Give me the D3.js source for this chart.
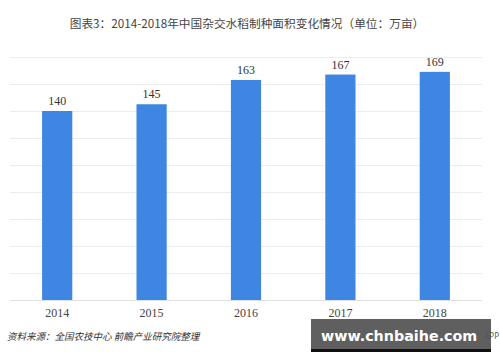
<!DOCTYPE html>
<html>
<head>
<meta charset="utf-8">
<script src="https://cdn.jsdelivr.net/npm/d3@7"></script>
<style>
  body { margin: 0; background: #fff; }
  svg { display: block; }
</style>
</head>
<body>
<div id="chart"></div>
<script>
// data
const years = ["2014", "2015", "2016", "2017", "2018"];
const area = [140, 145, 163, 167, 169];
const yTicks = [0, 20, 40, 60, 80, 100, 120, 140, 160, 180];

const width = 500;
const height = 362;
const margin = { top: 57, right: 18, bottom: 62, left: 10 };

const svg = d3.select("#chart")
    .append("svg")
    .attr("width", width)
    .attr("height", height);

const x = d3.scaleBand()
    .domain(years)
    .range([margin.left, width - margin.right])
    .paddingInner(0.68)
    .paddingOuter(0.34);

const y = d3.scaleLinear()
    .domain([0, 180])
    .range([height - margin.bottom, margin.top]);

// title
svg.append("text")
    .attr("x", 247)
    .attr("y", 28)
    .attr("text-anchor", "middle")
    .attr("font-family", "'Noto Sans CJK SC', 'Noto Sans', sans-serif")
    .attr("font-size", 11.7)
    .attr("fill", "#444")
    .text("图表3：2014-2018年中国杂交水稻制种面积变化情况（单位：万亩）");

// gridlines
svg.append("g")
    .selectAll("line")
    .data(yTicks)
    .join("line")
    .attr("x1", margin.left)
    .attr("x2", width - margin.right)
    .attr("y1", d => y(d) + 0.5)
    .attr("y2", d => y(d) + 0.5)
    .attr("stroke", d => d === 0 ? "#e0e0e0" : "#ececec")
    .attr("stroke-width", 1);

// bars
svg.append("g")
    .selectAll("rect")
    .data(area)
    .join("rect")
    .attr("x", (d, i) => x(years[i]))
    .attr("y", d => y(d))
    .attr("width", x.bandwidth())
    .attr("height", d => y(0) - y(d))
    .attr("fill", "#3f86e2");

// value labels
svg.append("g")
    .selectAll("text")
    .data(area)
    .join("text")
    .attr("x", (d, i) => x(years[i]) + x.bandwidth() / 2)
    .attr("y", d => y(d) - 6)
    .attr("text-anchor", "middle")
    .attr("font-family", "'Liberation Serif', 'DejaVu Serif', serif")
    .attr("font-size", 12)
    .attr("fill", "#333")
    .text(d => d);

// x axis labels
const xAxis = d3.axisBottom(x).tickSize(0).tickPadding(8);
const gx = svg.append("g")
    .attr("transform", `translate(0,${y(0)})`)
    .call(xAxis);
gx.select(".domain").remove();
gx.selectAll("text")
    .attr("font-family", "'Liberation Serif', 'DejaVu Serif', serif")
    .attr("font-size", 12)
    .attr("fill", "#444");

// source
svg.append("text")
    .attr("x", 7)
    .attr("y", 340)
    .attr("font-family", "'Noto Sans CJK SC', sans-serif")
    .attr("font-size", 9.5)
    .attr("font-style", "italic")
    .attr("fill", "#333")
    .text("资料来源：全国农技中心  前瞻产业研究院整理");

// watermark box
svg.append("rect")
    .attr("x", 311)
    .attr("y", 319)
    .attr("width", 180)
    .attr("height", 33)
    .attr("fill", "#5f5f5f");
svg.append("rect")
    .attr("x", 311)
    .attr("y", 349)
    .attr("width", 180)
    .attr("height", 3)
    .attr("fill", "#111");
svg.append("text")
    .attr("x", 321)
    .attr("y", 341)
    .attr("font-family", "'DejaVu Sans', sans-serif")
    .attr("font-weight", "bold")
    .attr("font-size", 14.3)
    .attr("fill", "#fff")
    .text("www.chnbaihe.com");

svg.append("text")
    .attr("x", 499)
    .attr("y", 339)
    .attr("text-anchor", "end")
    .attr("font-family", "'Noto Sans', sans-serif")
    .attr("font-size", 8)
    .attr("fill", "#555")
    .text("APP");
</script>
</body>
</html>
